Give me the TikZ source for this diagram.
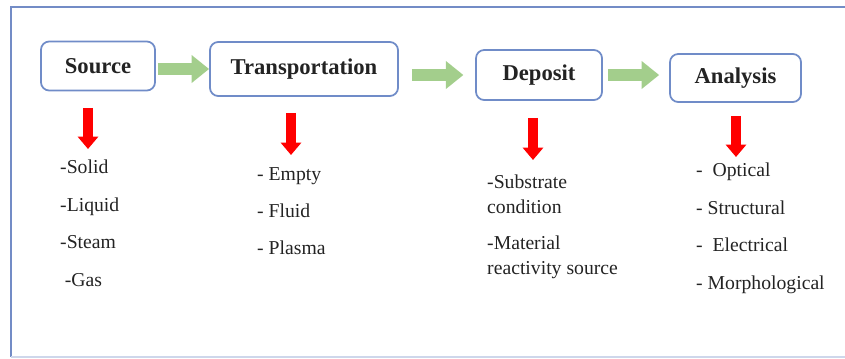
\documentclass[tikz,border=0pt]{standalone}
\usepackage{fontspec}
\setmainfont{Liberation Serif}
\usetikzlibrary{arrows.meta,positioning,calc}
\definecolor{boxblue}{RGB}{112,140,200}
\definecolor{frameblue}{RGB}{115,140,198}
\definecolor{flowgreen}{RGB}{163,206,140}
\definecolor{txtgray}{RGB}{35,35,35}

\begin{document}
\begin{tikzpicture}[x=0.03cm,y=-0.03cm,
  box/.style={draw=boxblue,line width=1.5pt,rounded corners=7pt,fill=white,text=txtgray,
    font=\fontsize{19.3}{22}\selectfont\bfseries,inner sep=0pt},
  flow/.style={draw=flowgreen,line width=11pt,-{Triangle[width=23pt,length=15pt]}},
  redarrow/.style={draw=red,line width=8.5pt,-{Triangle[width=17pt,length=10.5pt]}},
  list/.style={align=left,inner sep=0pt,anchor=north west,text=txtgray,
    font=\fontsize{16.8}{21.3}\selectfont}]
\useasboundingbox (0,0) rectangle (845,358);
% frame
\draw[frameblue,line width=1.8pt] (845,7) -- (11,7) -- (11,357);
\draw[frameblue!35,line width=1.5pt] (11,357) -- (845,357);
% stages
\node[box,minimum width=3.42cm,minimum height=1.47cm] (src) at (98,66) {Source};
\node[box,minimum width=5.64cm,minimum height=1.62cm] (trans) at (304,69) {Transportation};
\node[box,minimum width=3.78cm,minimum height=1.5cm] (dep) at (539,75) {Deposit};
\node[box,minimum width=3.93cm,minimum height=1.44cm] (ana) at (735.5,78) {Analysis};
\draw[flow,shorten <=1.7pt] (src.east |- trans.west) -- (trans.west);
\draw[flow,shorten <=11pt,shorten >=10pt] (trans.east |- dep.west) -- (dep.west);
\draw[flow,shorten <=4.3pt,shorten >=8.5pt] (dep.east) -- (ana.west |- dep.east);
% lists
\node[list] (srclist) at (60,160) {-Solid\\[10.6pt]-Liquid\\[10.6pt]-Steam\\[10.6pt]\hspace{4pt}-Gas};
\node[list] (translist) at (257,167) {- Empty\\[10.3pt]- Fluid\\[10.3pt]- Plasma};
\node[list] (deplist) at (487,175) {-Substrate\\condition\\[9.3pt]-Material\\reactivity source};
\node[list] (analist) at (696,163) {-\ \ Optical\\[10.6pt]- Structural\\[10.6pt]-\ \ Electrical\\[10.6pt]- Morphological};
\coordinate (srcend) at (88,149);
\coordinate (transend) at (291,155);
\coordinate (depend) at (533,160);
\coordinate (anaend) at (736,157);
\draw[redarrow,shorten <=14pt] (src.south -| srcend) -- (srcend);
\draw[redarrow,shorten <=13.6pt] (trans.south -| transend) -- (transend);
\draw[redarrow,shorten <=14.4pt] (dep.south -| depend) -- (depend);
\draw[redarrow,shorten <=11pt] (ana.south -| anaend) -- (anaend);
\end{tikzpicture}
\end{document}
